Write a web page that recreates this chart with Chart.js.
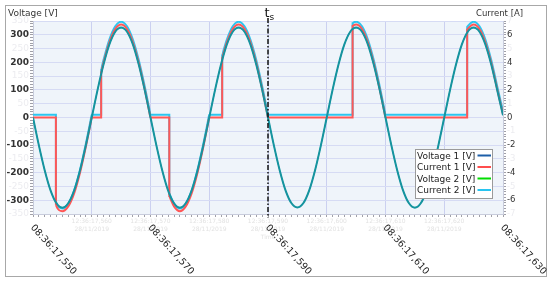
<!DOCTYPE html>
<html><head><meta charset="utf-8">
<script src="https://cdn.jsdelivr.net/npm/chart.js@4.4.1/dist/chart.umd.min.js"></script>
<style>html,body{margin:0;padding:0;background:#fff;overflow:hidden}</style>
</head><body>
<canvas id="c" width="550" height="282"></canvas>
<script>
// ---- data ----
const timeV = [550,551,552,553,554,555,556,557,558,559,
560,561,562,563,564,565,566,567,568,569,
570,571,572,573,574,575,576,577,578,579,
580,581,582,583,584,585,586,587,588,589,
590,591,592,593,594,595,596,597,598,599,
600,601,602,603,604,605,606,607,608,609,
610,611,612,613,614,615,616,617,618,619,
620,621,622,623,624,625,626,627,628,629,630];
const voltage1 = [0,-101,-192,-265,-311,-327,-311,-265,-192,-101,
0,101,192,265,311,326,311,265,192,101,
0,-101,-192,-265,-311,-327,-311,-265,-192,-101,
0,101,192,265,311,326,311,265,192,101,
0,-101,-192,-265,-311,-326,-311,-265,-192,-101,
0,101,192,265,311,326,311,265,192,101,
0,-101,-192,-265,-311,-327,-311,-265,-192,-101,
0,101,192,265,311,326,311,265,192,101,8];
const voltage2 = [0,-101,-192,-265,-311,-326,-311,-265,-192,-101,
0,101,192,265,311,325,311,265,192,101,
0,-101,-192,-265,-311,-326,-311,-265,-192,-101,
0,101,192,265,311,325,311,265,192,101,
0,-101,-192,-265,-311,-326,-311,-265,-192,-101,
0,101,192,265,311,325,311,265,192,101,
0,-101,-192,-265,-311,-326,-311,-265,-192,-101,
0,101,192,265,311,325,311,265,192,101,8];
const timeI = [550,553.9,553.9,554,555,556,557,558,559,559.8,560,
561.6,561.6,561.8,562,563,564,565,566,567,568,569,569.8,570,
573.2,573.2,573.4,574,575,576,577,578,579,579.8,580,
582.2,582.2,582.4,583,584,585,586,587,588,589,589.8,590,
604.4,604.4,604.6,605,606,607,608,609,609.8,610,
623.9,623.9,624,625,626,627,628,629,630];
const current1 = [0,0,-6.25,-6.45,-6.80,-6.45,-5.50,-4.00,-2.10,-0.42,0,
0,3.25,3.62,3.97,5.46,6.42,6.75,6.42,5.46,3.97,2.09,0.42,0,
0,-5.70,-5.91,-6.45,-6.80,-6.45,-5.50,-4.00,-2.10,-0.42,0,
0,4.30,4.62,5.46,6.42,6.75,6.42,5.46,3.97,2.09,0.42,0,
0,6.63,6.70,6.75,6.42,5.46,3.97,2.09,0.42,0,
0,6.35,6.42,6.75,6.42,5.46,3.97,2.09,0.25];
const current2 = [0.2,0.2,-6.05,-6.25,-6.60,-6.25,-5.30,-3.80,-1.90,-0.22,0.2,
0.2,3.45,3.82,4.17,5.66,6.62,6.95,6.62,5.66,4.17,2.29,0.62,0.2,
0.2,-5.50,-5.71,-6.25,-6.60,-6.25,-5.30,-3.80,-1.90,-0.22,0.2,
0.2,4.50,4.82,5.66,6.62,6.95,6.62,5.66,4.17,2.29,0.62,0.2,
0.2,6.83,6.90,6.95,6.62,5.66,4.17,2.29,0.62,0.2,
0.2,6.55,6.62,6.95,6.62,5.66,4.17,2.29,0.45];
const xTickTimes = [550,570,590,610,630];
const xTickLabels = ['08:36:17,550','08:36:17,570','08:36:17,590','08:36:17,610','08:36:17,630'];
const ghostTimes = [560,570,580,590,600,610,620];
const ghostLabels = ['12:36:17,560','12:36:17,570','12:36:17,580','12:36:17,590','12:36:17,600','12:36:17,610','12:36:17,620'];
const ghostDate = '28/11/2019';
const seriesNames = ['Voltage 1 [V]','Current 1 [V]','Voltage 2 [V]','Current 2 [V]'];
const legendColors = ['#1d5ea8','#ff4d4d','#00dd00','#28c4f0'];
const lineColors = ['#16939f','#ff5757','#00c8a0','#2cc6f0'];
const leftTitle = 'Voltage [V]';
const rightTitle = 'Current [A]';
const tsTime = 590;

const FONT = '"DejaVu Sans", Verdana, sans-serif';
const pts = (xs, ys) => xs.map((x, i) => ({x, y: ys[i]}));
const isMult = (v, m) => { const r = Math.round(v / m) * m; return Math.abs(v - r) < 1e-6; };

const deco = {
  id: 'deco',
  beforeDraw(chart) {
    const {ctx, chartArea: a} = chart;
    ctx.save();
    ctx.fillStyle = '#fff';
    ctx.fillRect(0, 0, chart.width, chart.height);
    ctx.fillStyle = '#eff4fa';
    ctx.fillRect(a.left, a.top, a.right - a.left, a.bottom - a.top);
    ctx.restore();
  },
  afterDatasetsDraw(chart) {
    const {ctx, chartArea: a, scales} = chart;
    const px = scales.x.getPixelForValue(tsTime);
    ctx.save();
    ctx.strokeStyle = '#111';
    ctx.lineWidth = 1.5;
    ctx.setLineDash([5, 2, 1.5, 2]);
    ctx.beginPath();
    ctx.moveTo(px, 18);
    ctx.lineTo(px, a.bottom + 4);
    ctx.stroke();
    ctx.restore();
  },
  afterDraw(chart) {
    const {ctx, scales} = chart;
    const x = scales.x;
    ctx.save();
    // outer frame
    ctx.strokeStyle = '#a8a8a8';
    ctx.lineWidth = 1;
    ctx.strokeRect(5.5, 5.5, 541, 271);
    // axis titles
    ctx.fillStyle = '#333';
    ctx.textBaseline = 'alphabetic';
    ctx.textAlign = 'left';
    ctx.font = '9px ' + FONT;
    ctx.fillText(leftTitle, 8, 16);
    ctx.font = '8.5px ' + FONT;
    ctx.fillText(rightTitle, 476, 16);
    // ts label
    const px = x.getPixelForValue(tsTime);
    ctx.fillStyle = '#111';
    ctx.font = '13px ' + FONT;
    ctx.fillText('t', px - 3.5, 17);
    ctx.font = '9px ' + FONT;
    ctx.fillText('s', px + 1.5, 20);
    // ghost labels
    ctx.fillStyle = '#e2e2e2';
    ctx.font = '6px ' + FONT;
    ctx.textAlign = 'center';
    ghostTimes.forEach((t, i) => {
      const gx = x.getPixelForValue(t);
      ctx.fillText(ghostLabels[i], gx, 223);
      ctx.fillText(ghostDate, gx, 231);
    });
    ctx.fillText('Time', x.getPixelForValue(tsTime), 239);
    // x tick labels (rotated)
    ctx.fillStyle = '#222';
    ctx.font = '9.5px ' + FONT;
    ctx.textAlign = 'left';
    ctx.textBaseline = 'middle';
    xTickTimes.forEach((t, i) => {
      const tx = x.getPixelForValue(t);
      ctx.save();
      ctx.translate(tx - 1, 226);
      ctx.rotate(48 * Math.PI / 180);
      ctx.fillText(xTickLabels[i], 0, 0);
      ctx.restore();
    });
    // legend
    const lx = 415.5, ly = 149.5, lw = 77, lh = 49;
    ctx.fillStyle = '#fff';
    ctx.fillRect(lx, ly, lw, lh);
    ctx.strokeStyle = '#9a9a9a';
    ctx.strokeRect(lx, ly, lw, lh);
    ctx.textBaseline = 'alphabetic';
    seriesNames.forEach((n, i) => {
      const by = 158.5 + i * 11.5;
      ctx.fillStyle = '#222';
      ctx.font = '9px ' + FONT;
      ctx.fillText(n, 417, by);
      ctx.strokeStyle = legendColors[i];
      ctx.lineWidth = 2;
      ctx.beginPath();
      ctx.moveTo(477.5, by - 3);
      ctx.lineTo(491, by - 3);
      ctx.stroke();
    });
    ctx.restore();
  }
};

const ds = (label, data, color, axis, order, w) => ({
  label, data, borderColor: color, backgroundColor: color, yAxisID: axis, order,
  borderWidth: w, pointRadius: 0, fill: false, cubicInterpolationMode: 'monotone'
});

new Chart(document.getElementById('c'), {
  type: 'line',
  data: {
    datasets: [
      ds(seriesNames[0], pts(timeV, voltage1), lineColors[0], 'y', 0, 2),
      ds(seriesNames[1], pts(timeI, current1), lineColors[1], 'yR', 1, 2),
      ds(seriesNames[2], pts(timeV, voltage2), lineColors[2], 'y', 2, 1),
      ds(seriesNames[3], pts(timeI, current2), lineColors[3], 'yR', 3, 2)
    ]
  },
  options: {
    responsive: false,
    animation: false,
    devicePixelRatio: 1,
    layout: {padding: {left: 0, right: 0, top: 21, bottom: 68}},
    plugins: {legend: {display: false}, tooltip: {enabled: false}},
    scales: {
      x: {
        type: 'linear', min: 550, max: 630,
        ticks: {display: false, stepSize: 1},
        grid: {
          color: c => (c.tick && isMult(c.tick.value, 10)) ? '#cbd0f0' : 'rgba(0,0,0,0)',
          tickColor: '#a0a0a8', tickLength: 3, drawTicks: true
        },
        border: {display: true, color: '#c8ccdc'},
        afterFit: s => { s.height = 0; }
      },
      y: {
        position: 'left', min: -350, max: 350,
        ticks: {
          stepSize: 10, autoSkip: false, padding: 1,
          callback: v => isMult(v, 50) ? String(Math.round(v)) : '',
          color: c => (c.tick && isMult(c.tick.value, 100)) ? '#333' : '#ececf0',
          font: c => ({family: FONT, size: 9, weight: (c.tick && isMult(c.tick.value, 100)) ? 'bold' : 'normal'})
        },
        grid: {
          color: c => (c.tick && isMult(c.tick.value, 50)) ? '#d6dbf4' : 'rgba(0,0,0,0)',
          tickColor: '#a0a0a8', tickLength: 3
        },
        border: {display: true, color: '#c8ccdc'},
        afterFit: s => { s.width = 33; }
      },
      yR: {
        position: 'right', min: -7, max: 7,
        ticks: {
          stepSize: 0.2, autoSkip: false, padding: 1,
          callback: v => isMult(v, 1) ? String(Math.round(v) === 0 ? 0 : Math.round(v)) : '',
          color: c => (c.tick && isMult(c.tick.value, 2)) ? '#333' : '#ececf0',
          font: {family: FONT, size: 8.5}
        },
        grid: {drawOnChartArea: false, tickColor: '#a0a0a8', tickLength: 3},
        border: {display: true, color: '#c8ccdc'},
        afterFit: s => { s.width = 47; }
      }
    }
  },
  plugins: [deco]
});
</script>
</body></html>
